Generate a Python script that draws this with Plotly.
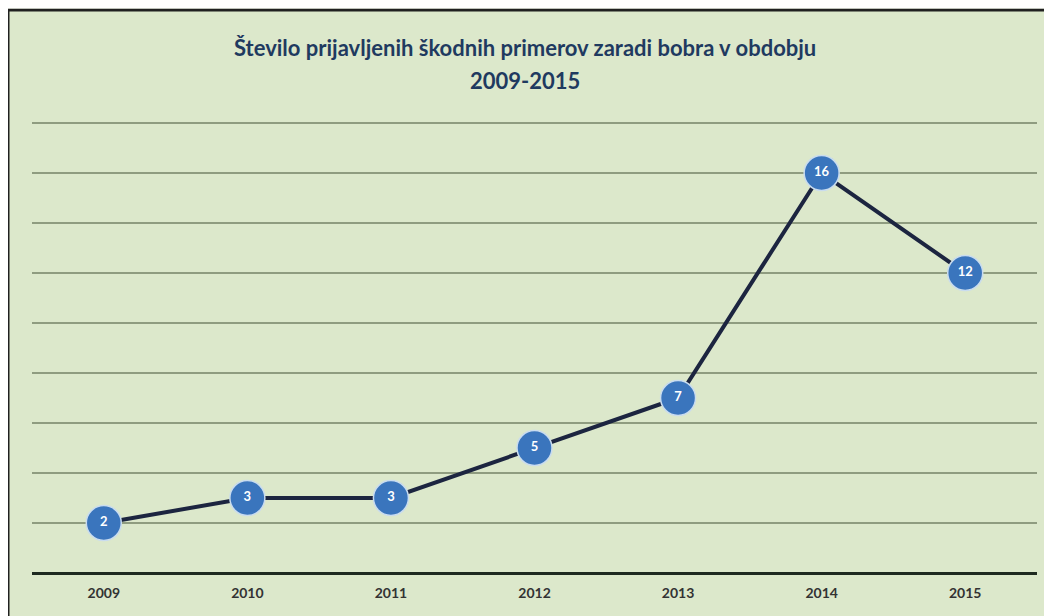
import plotly.graph_objects as go

years = ["2009", "2010", "2011", "2012", "2013", "2014", "2015"]
counts = [2, 3, 3, 5, 7, 16, 12]
title_lines = ["Število prijavljenih škodnih primerov zaradi bobra v obdobju", "2009-2015"]

# page body has an 8px margin, so offset everything by -8px
OFF = 8
W, H = 1044, 608
ML = 32 - OFF
MT = 118 - OFF
plot_right = 1037 - OFF
plot_bottom = 573 - OFF
MR = W - plot_right
MB = H - plot_bottom
pw, ph = W - ML - MR, H - MT - MB

def px_x(p):
    return (p - OFF - ML) / pw

def px_y(p):
    return (H - MB - (p - OFF)) / ph

fig = go.Figure()
fig.add_trace(go.Scatter(
    x=years, y=counts, mode="lines+markers+text",
    line=dict(color="#1c2540", width=4),
    marker=dict(size=35, color="#3a75bd", line=dict(color="#c9dcef", width=1.5)),
    text=[str(v) for v in counts], textposition="middle center",
    textfont=dict(family="Lato", size=13, color="white", weight="bold"),
    cliponaxis=False, hoverinfo="x+y",
))

title_font = dict(family="Lato", size=22, color="#1f3a60", weight="bold")
annotations = []
for line, ypx in zip(title_lines, [47, 80]):
    annotations.append(dict(
        text=line, showarrow=False, xref="paper", yref="paper",
        x=px_x(525), y=px_y(ypx), xanchor="center", yanchor="middle",
        font=title_font,
    ))

fig.update_layout(
    width=W, height=H,
    margin=dict(l=ML, r=MR, t=MT, b=MB),
    paper_bgcolor="#dce8cb",
    plot_bgcolor="rgba(0,0,0,0)",
    showlegend=False,
    annotations=annotations,
    xaxis=dict(
        type="category", range=[-0.5, 6.5],
        showgrid=False, zeroline=False,
        showline=False, ticks="",
        tickfont=dict(family="Lato", size=14, color="#333333", weight="bold"),
        ticklabelstandoff=10,
    ),
    yaxis=dict(
        range=[0, 18.2], dtick=2, showticklabels=False,
        showgrid=True, gridcolor="#8f9c80", gridwidth=2,
        zeroline=True, zerolinecolor="#1e2a20", zerolinewidth=3,
        showline=False, ticks="",
    ),
    shapes=[dict(
        type="rect", xref="paper", yref="paper", layer="below",
        x0=px_x(8), x1=px_x(1080), y0=px_y(10), y1=px_y(650),
        fillcolor="#dce8cb", line=dict(color="#202020", width=3),
    ), dict(
        type="rect", xref="paper", yref="paper", layer="below",
        x0=px_x(0), x1=px_x(1080), y0=px_y(8.5), y1=px_y(-20),
        fillcolor="white", line=dict(width=0),
    ), dict(
        type="rect", xref="paper", yref="paper", layer="below",
        x0=px_x(-20), x1=px_x(6.5), y0=px_y(-20), y1=px_y(650),
        fillcolor="white", line=dict(width=0),
    )],
)

fig.write_html("out.html")
